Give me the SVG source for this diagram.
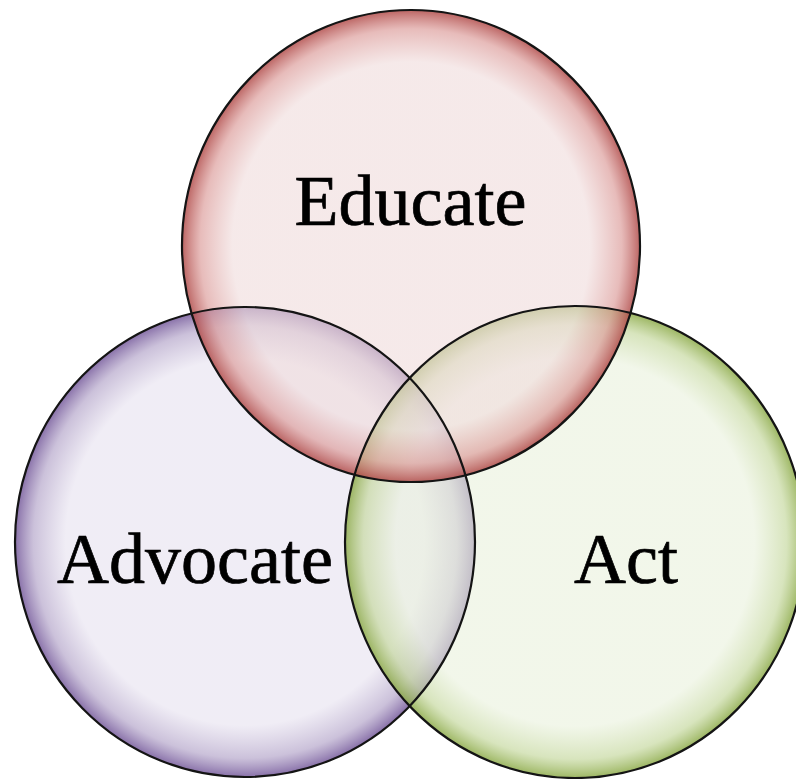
<svg xmlns="http://www.w3.org/2000/svg" width="796" height="779" viewBox="0 0 796 779">
  <defs>
    <radialGradient id="gEdu" cx="0.5" cy="0.5" r="0.5">
      <stop offset="0" stop-color="#f0dcdc" stop-opacity="0.62"/>
      <stop offset="0.78" stop-color="#f0dcdc" stop-opacity="0.62"/>
      <stop offset="0.92" stop-color="#dc9c9a" stop-opacity="0.68"/>
      <stop offset="1" stop-color="#b04a48" stop-opacity="0.85"/>
    </radialGradient>
    <radialGradient id="gAdv" cx="0.5" cy="0.5" r="0.5">
      <stop offset="0" stop-color="#e6e1ef" stop-opacity="0.6"/>
      <stop offset="0.78" stop-color="#e6e1ef" stop-opacity="0.6"/>
      <stop offset="0.92" stop-color="#b3a4c9" stop-opacity="0.68"/>
      <stop offset="1" stop-color="#74589a" stop-opacity="0.85"/>
    </radialGradient>
    <radialGradient id="gAct" cx="0.5" cy="0.5" r="0.5">
      <stop offset="0" stop-color="#e9f1dc" stop-opacity="0.6"/>
      <stop offset="0.78" stop-color="#e9f1dc" stop-opacity="0.6"/>
      <stop offset="0.92" stop-color="#c5d89e" stop-opacity="0.68"/>
      <stop offset="1" stop-color="#8caa48" stop-opacity="0.85"/>
    </radialGradient>
  </defs>
  <style>
    .lbl { font-family: "Liberation Serif", "Times New Roman", serif; font-size: 72px; fill: #000; stroke: #000; stroke-width: 0.7; text-anchor: middle; }
    .rim { fill: none; stroke: #141414; stroke-width: 2.2; }
  </style>
  <rect width="796" height="779" fill="#ffffff"/>
  <g id="advocate">
    <ellipse cx="245" cy="542" rx="230" ry="235" fill="url(#gAdv)"/>
  </g>
  <g id="act">
    <ellipse cx="575" cy="542" rx="230" ry="236" fill="url(#gAct)"/>
  </g>
  <g id="educate">
    <ellipse cx="411" cy="246" rx="229" ry="236" fill="url(#gEdu)"/>
  </g>
  <g id="outlines">
    <ellipse class="rim" cx="411" cy="246" rx="229" ry="236"/>
    <ellipse class="rim" cx="245" cy="542" rx="230" ry="235"/>
    <ellipse class="rim" cx="575" cy="542" rx="230" ry="236"/>
  </g>
  <g id="labels">
    <text class="lbl" x="410.5" y="225">Educate</text>
    <text class="lbl" x="195" y="583">Advocate</text>
    <text class="lbl" x="626" y="583">Act</text>
  </g>
</svg>
